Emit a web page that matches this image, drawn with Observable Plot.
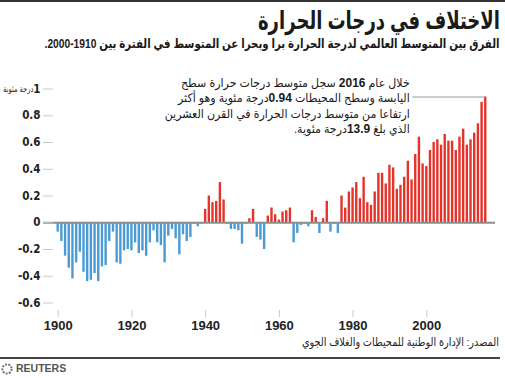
<!DOCTYPE html>
<html>
<head>
<meta charset="utf-8">
<script src="https://cdn.jsdelivr.net/npm/d3@7"></script>
<script src="https://cdn.jsdelivr.net/npm/@observablehq/plot@0.6"></script>
<style>
  html, body { margin: 0; padding: 0; background: #fff; }
  body { width: 505px; height: 378px; position: relative; overflow: hidden;
         font-family: "Liberation Sans", "DejaVu Sans", sans-serif; color: #222; }
  .abs { position: absolute; white-space: nowrap; }
  .fit { transform-origin: right center; }
  #topline { left: 0; top: 0; width: 505px; height: 2px; background: #333; }
  #title { right: 5px; top: 5px; font-size: 25px; font-weight: bold; line-height: 30px; direction: rtl; color: #1a1a1a; }
  #subtitle { right: 5px; top: 36px; font-size: 13px; font-weight: bold; line-height: 16px; direction: rtl; color: #1a1a1a; }
  #chart { left: 0; top: 60px; }
  #source { right: 6px; top: 335px; font-size: 11.5px; line-height: 14px; direction: rtl; color: #222; }
  #botline { left: 0; top: 357px; width: 500px; height: 1.5px; background: #444; }
  #reuters { left: 1px; top: 362px; font-size: 10.5px; font-weight: bold; color: #555; line-height: 13px; display: flex; align-items: center; gap: 3px; }
  g[aria-label="y-axis tick label"] { font-family: "Liberation Sans Narrow", "DejaVu Sans Condensed", sans-serif; font-size: 11.5px; font-weight: bold; }
  g[aria-label="x-axis tick label"] { font-family: "Liberation Sans", sans-serif; font-size: 13px; font-weight: bold; }
</style>
</head>
<body>
<div id="topline" class="abs"></div>
<div id="title" class="abs fit" data-w="242">الاختلاف في درجات الحرارة</div>
<div id="subtitle" class="abs fit" data-w="455">الفرق بين المتوسط العالمي لدرجة الحرارة برا وبحرا عن المتوسط في الفترة بين 1910-2000.</div>
<div id="chart" class="abs"></div>
<div id="source" class="abs fit" data-w="197">المصدر: الإدارة الوطنية للمحيطات والغلاف الجوي</div>
<div id="botline" class="abs"></div>
<div id="reuters" class="abs"><svg width="12" height="12" viewBox="0 0 12 12"><circle cx="6" cy="6" r="4.6" fill="none" stroke="#777" stroke-width="2" stroke-dasharray="2 1.2"/></svg><span>REUTERS</span></div>
<script>
// ---- data ----
const years = d3.range(1900, 2017);
const anomalies = [
  -0.07, -0.14, -0.25, -0.34, -0.42, -0.30, -0.22, -0.37, -0.44, -0.43, // 1900s
  -0.38, -0.44, -0.33, -0.32, -0.14, -0.07, -0.30, -0.31, -0.21, -0.20, // 1910s
  -0.21, -0.15, -0.23, -0.21, -0.25, -0.15, -0.06, -0.15, -0.17, -0.30, // 1920s
  -0.10, -0.05, -0.12, -0.24, -0.09, -0.14, -0.11, -0.01, -0.03, -0.01, // 1930s
   0.10,  0.20,  0.15,  0.16,  0.30,  0.17, -0.01, -0.05, -0.05, -0.06, // 1940s
  -0.16, -0.01,  0.03,  0.10, -0.11, -0.13, -0.20,  0.05,  0.11,  0.06, // 1950s
   0.02,  0.08,  0.09,  0.11, -0.15, -0.08, -0.02, -0.01, -0.03,  0.09, // 1960s
   0.04, -0.08,  0.03,  0.16, -0.07, -0.01, -0.08,  0.20,  0.11,  0.23, // 1970s
   0.26,  0.30,  0.18,  0.34,  0.15,  0.13,  0.23,  0.37,  0.37,  0.29, // 1980s
   0.43,  0.41,  0.25,  0.28,  0.34,  0.46,  0.32,  0.51,  0.64,  0.44, // 1990s
   0.42,  0.54,  0.60,  0.62,  0.58,  0.66,  0.61,  0.61,  0.54,  0.64, // 2000s
   0.70,  0.58,  0.62,  0.67,  0.74,  0.90,  0.94                        // 2010s
];
const xTicks = [1900, 1920, 1940, 1960, 1980, 2000];
const yTicks = [-0.6, -0.4, -0.2, 0, 0.2, 0.4, 0.6, 0.8, 1];
const yUnit = "درجة مئوية";
const annotation = [
  "خلال عام 2016 سجل متوسط درجات حرارة سطح",
  "اليابسة وسطح المحيطات 0.94درجة مئوية وهو أكثر",
  "ارتفاعا من متوسط درجات الحرارة في القرن العشرين",
  "الذي بلغ 13.9درجة مئوية."
];

const data = years.map((year, i) => ({year, value: anomalies[i]}));
const last = data[data.length - 1];
const RED = "#e5332a", BLUE = "#4a9ad3";

const plot = Plot.plot({
  width: 505,
  height: 280,
  marginLeft: 53,
  marginRight: 10,
  marginTop: 28.5,
  marginBottom: 30,
  style: {fontFamily: "'Liberation Sans', 'DejaVu Sans', sans-serif", color: "#222", background: "transparent", overflow: "visible"},
  x: {domain: [1898.725, 2018.64]},
  y: {domain: [-0.656, 1]},
  marks: [
    Plot.rectY(data, {filter: d => d.value < 0, x1: d => d.year - 0.5, x2: d => d.year + 0.5, y: "value", fill: BLUE, insetLeft: 0.65, insetRight: 0.65}),
    Plot.rectY(data, {filter: d => d.value >= 0, x1: d => d.year - 0.5, x2: d => d.year + 0.5, y: "value", fill: RED, insetLeft: 0.65, insetRight: 0.65}),
    Plot.ruleY([0], {stroke: "#8c8c8c", strokeWidth: 1.8, insetLeft: -10}),
    Plot.axisY({ticks: yTicks, tickSize: 10, tickPadding: 3, tickFormat: d => String(d), stroke: "#c8c8c8", fill: "#222", label: null}),
    Plot.axisX({ticks: xTicks, tickSize: 7, tickPadding: 3, tickFormat: d => String(d), stroke: "#c8c8c8", fill: "#222", label: null}),
    Plot.text([yTicks[yTicks.length - 1]], {y: d => d, frameAnchor: "left", dx: -20, text: () => yUnit, textAnchor: "end", fontSize: 9, fill: "#222"}),
    Plot.ruleY([last], {y: "value", x1: "year", x2: "year", insetLeft: -73, stroke: "#999", strokeWidth: 1}),
    Plot.text([last], {x: "year", y: "value", text: () => annotation.join("\n"), textAnchor: "end", lineAnchor: "middle", lineHeight: 1.3, dx: -76, dy: 8, fontSize: 12, fill: "#1a1a1a"})
  ]
});

// compress the unit label so it fits like the reference
d3.select(plot).selectAll("text").filter(function() { return this.textContent === yUnit; }).each(function() {
  this.setAttribute("transform", (this.getAttribute("transform") || "") + " scale(0.75,1)");
});

// annotation: right-to-left lines with bold numbers
d3.select(plot).selectAll("text").filter(function() { return this.textContent.includes("خلال"); }).each(function() {
  const textEl = this;
  textEl.setAttribute("transform", (textEl.getAttribute("transform") || "") + " scale(0.92,1)");
  textEl.setAttribute("direction", "rtl");
  textEl.style.direction = "rtl";
  textEl.style.unicodeBidi = "embed";
  textEl.setAttribute("text-anchor", "start");
  d3.select(textEl).selectAll("tspan").each(function() {
    const t = this.textContent;
    const sel = d3.select(this);
    sel.text(null);
    const parts = t.split(/(\d+(?:\.\d+)?)/);
    parts.forEach((p, i) => {
      if (!p) return;
      if (i % 2 === 1) sel.append("tspan").attr("font-weight", "bold").attr("font-size", 13).text(p);
      else this.appendChild(document.createTextNode(p));
    });
  });
});

document.getElementById("chart").appendChild(plot);

// fit header/footer texts to their measured widths in the reference
document.querySelectorAll(".fit").forEach(el => {
  const w = el.getBoundingClientRect().width;
  const target = +el.dataset.w;
  if (w > 0) el.style.transform = `scaleX(${target / w})`;
});
</script>
</body>
</html>
